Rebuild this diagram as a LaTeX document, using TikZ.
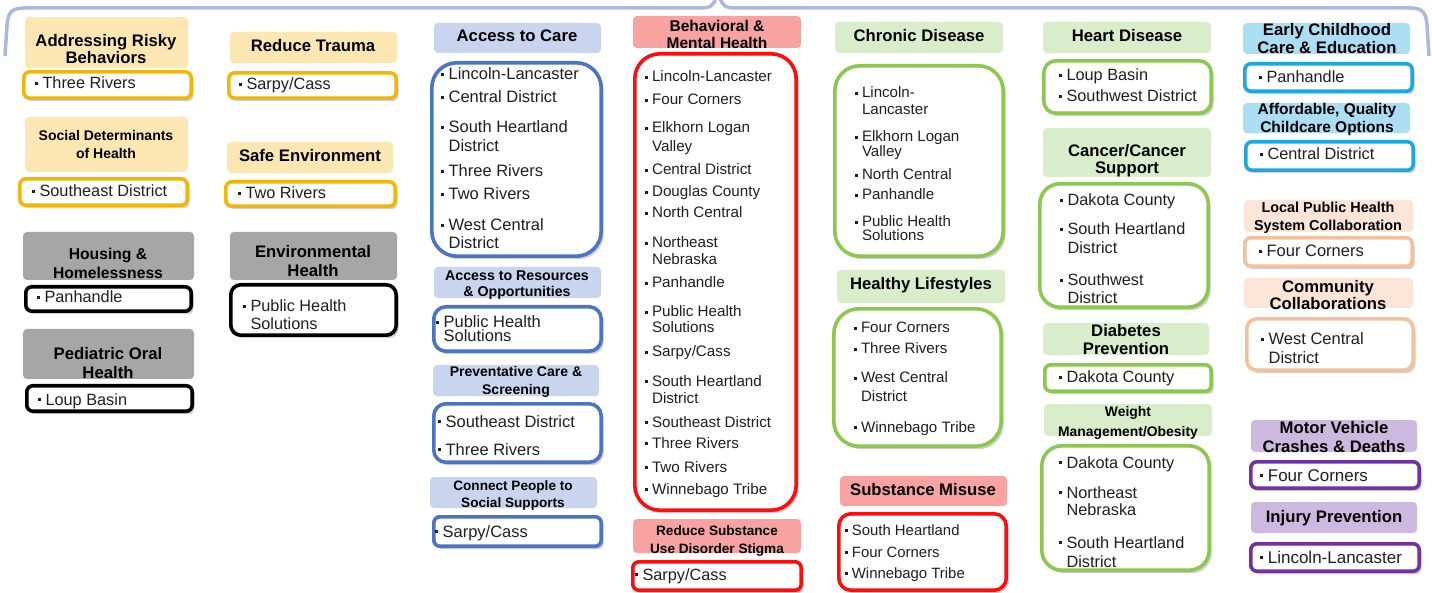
\documentclass[tikz,border=0pt]{standalone}
\usepackage{fontspec}
\setmainfont{Liberation Sans}
\usetikzlibrary{fit,shadows}
\definecolor{goldB}{HTML}{F2B705}
\definecolor{goldF}{HTML}{FCE7B2}
\definecolor{grayF}{HTML}{A6A6A6}
\definecolor{blueF}{HTML}{C9D4EE}
\definecolor{blueB}{HTML}{4A74C4}
\definecolor{redF}{HTML}{F8A2A2}
\definecolor{redB}{HTML}{FF0D0D}
\definecolor{greenF}{HTML}{DAEDCB}
\definecolor{greenB}{HTML}{8DC84E}
\definecolor{cyanF}{HTML}{ABDDF3}
\definecolor{cyanB}{HTML}{19A9E1}
\definecolor{peachF}{HTML}{FCE5D6}
\definecolor{peachB}{HTML}{F2C19C}
\definecolor{purpF}{HTML}{CDB9DF}
\definecolor{purpB}{HTML}{7131A1}
\definecolor{braceC}{HTML}{ABB9E1}
\newcounter{nc}
\newcommand\bul{\rule[0.22em]{0.19em}{0.19em}\hspace{0.26em}}
\newcommand\nob{\hspace{0.45em}}
\newcommand\hdrbox[5][]{\stepcounter{nc}\edef\nn{\the\value{nc}}\node[hdr,#1,fit={(#2,#3)(#4,#5)}] (h\nn) {};}
\newcommand\itembox[5][]{\stepcounter{nc}\edef\nn{\the\value{nc}}\node[bxs,#1,fit={(#2+1.8,#3+1.8)(#4-1.8,#5-1.8)}] (b\nn) {};}
\newcommand\hdrline[4][16.7]{\stepcounter{nc}\edef\nn{\the\value{nc}}\node[htxt,font=\bfseries\fontsize{#1}{#1}\selectfont] (t\nn) at (#2,#3) {#4};}
\newcommand\itemline[4][16.3]{\stepcounter{nc}\edef\nn{\the\value{nc}}\node[itxt,font=\fontsize{#1}{#1}\selectfont] (t\nn) at (#2,#3) {#4};}
\tikzset{
  hdr/.style={inner sep=0pt, rounded corners=4pt, draw=none},
  bxs/.style={inner sep=0pt, draw, line width=3.6pt, fill=white, rounded corners=6pt,
    drop shadow={shadow xshift=2.5pt, shadow yshift=-3pt, opacity=0.3, fill=black!60}},
  htxt/.style={anchor=base, inner sep=0pt, text=black},
  itxt/.style={anchor=base west, inner sep=0pt, text=black!88},
  hY/.style={fill=goldF}, bG/.style={draw=goldB},
  hGr/.style={fill=grayF}, bK/.style={draw=black},
  hB/.style={fill=blueF}, bB/.style={draw=blueB},
  hR/.style={fill=redF}, bR/.style={draw=redB},
  hGn/.style={fill=greenF}, bGn/.style={draw=greenB},
  hC/.style={fill=cyanF}, bC/.style={draw=cyanB},
  hP/.style={fill=peachF}, bP/.style={draw=peachB},
  hV/.style={fill=purpF}, bV/.style={draw=purpB},
  brace/.style={draw=braceC, line width=3.5pt}
}
\begin{document}
\begin{tikzpicture}[x=1pt,y=-1pt]
\fill[white] (0,0) rectangle (1432,593);
\useasboundingbox (0,0) rectangle (1432,593);
% brace
\draw[brace] (5,56) -- (7,25) .. controls (8,12) and (12,8) .. (25,8) -- (700,8) .. controls (710,8) and (714,6) .. (716,-3);
\draw[brace] (720,-3) .. controls (722,6) and (726,8) .. (736,8) -- (1410,8) .. controls (1422,8) and (1426,12) .. (1427,25) -- (1429,56);
% ---------- column 1
\hdrbox[hY]{25}{17}{188}{68}
\hdrline{106}{47}{Addressing Risky}
\hdrline{106}{64}{Behaviors}
\itembox[bG]{22}{70}{193}{100}
\itemline{35}{89}{\bul Three Rivers}
\hdrbox[hY]{25}{117}{188}{172}
\hdrline[14]{106}{141}{Social Determinants}
\hdrline[14]{106}{159}{of Health}
\itembox[bG]{18}{177}{189}{207}
\itemline{32}{197}{\bul Southeast District}
\hdrbox[hGr]{23}{232}{194}{280}
\hdrline[15.7]{108}{260}{Housing \&}
\hdrline[15.7]{108}{279}{Homelessness}
\itembox[bK]{24}{285}{193}{313}
\itemline{37}{303}{\bul Panhandle}
\hdrbox[hGr]{23}{329}{194}{379}
\hdrline{108}{360}{Pediatric Oral}
\hdrline{108}{378}{Health}
\itembox[bK]{25}{384}{194}{413}
\itemline{38}{405}{\bul Loup Basin}
% ---------- column 2
\hdrbox[hY]{230}{32}{397}{63}
\hdrline{313}{52}{Reduce Trauma}
\itembox[bG]{227}{71}{398}{100}
\itemline{239}{90}{\bul Sarpy/Cass}
\hdrbox[hY]{227}{142}{393}{173}
\hdrline{310}{162}{Safe Environment}
\itembox[bG]{224}{180}{397}{208}
\itemline{238}{199}{\bul Two Rivers}
\hdrbox[hGr]{230}{232}{397}{280}
\hdrline{313}{258}{Environmental}
\hdrline{313}{277}{Health}
\itembox[bK,rounded corners=10pt]{229}{283}{398}{337}
\itemline{243}{312}{\bul Public Health}
\itemline{243}{330}{\nob Solutions}
% ---------- column 3
\hdrbox[hB]{434}{23}{601}{53}
\hdrline{517}{42}{Access to Care}
\itembox[bB,rounded corners=25pt]{430}{61}{603}{258}
\itemline[16.5]{441}{80}{\bul Lincoln-Lancaster}
\itemline[16.5]{441}{103}{\bul Central District}
\itemline[16.5]{441}{133}{\bul South Heartland}
\itemline[16.5]{441}{152}{\nob District}
\itemline[16.5]{441}{177}{\bul Three Rivers}
\itemline[16.5]{441}{200}{\bul Two Rivers}
\itemline[16.5]{441}{231}{\bul West Central}
\itemline[16.5]{441}{249}{\nob District}
\hdrbox[hB]{434}{267}{601}{298}
\hdrline[14.2]{517}{281}{Access to Resources}
\hdrline[14.2]{517}{297}{\& Opportunities}
\itembox[bB,rounded corners=12pt]{432}{305}{603}{353}
\itemline[16.5]{436}{328}{\bul Public Health}
\itemline[16.5]{436}{342}{\nob Solutions}
\hdrbox[hB]{433}{365}{599}{396}
\hdrline[14]{516}{377}{Preventative Care \&}
\hdrline[14]{516}{395}{Screening}
\itembox[bB,rounded corners=12pt]{432}{402}{603}{464}
\itemline[16.5]{438}{427}{\bul Southeast District}
\itemline[16.5]{438}{455}{\bul Three Rivers}
\hdrbox[hB]{430}{477}{597}{508}
\hdrline[13.6]{513}{490}{Connect People to}
\hdrline[13.6]{513}{507}{Social Supports}
\itembox[bB]{432}{515}{603}{548}
\itemline[16.5]{435}{537}{\bul Sarpy/Cass}
% ---------- column 4
\hdrbox[hR]{633}{16}{801}{48}
\hdrline[15.5]{717}{32}{Behavioral \&}
\hdrline[15.5]{717}{49}{Mental Health}
\itembox[bR,rounded corners=25pt]{633}{52}{798}{512}
\itemline[15.2]{645}{82}{\bul Lincoln-Lancaster}
\itemline[15.2]{645}{105}{\bul Four Corners}
\itemline[15.2]{645}{133}{\bul Elkhorn Logan}
\itemline[15.2]{645}{152}{\nob Valley}
\itemline[15.2]{645}{175}{\bul Central District}
\itemline[15.2]{645}{197}{\bul Douglas County}
\itemline[15.2]{645}{218}{\bul North Central}
\itemline[15.2]{645}{248}{\bul Northeast}
\itemline[15.2]{645}{265}{\nob Nebraska}
\itemline[15.2]{645}{288}{\bul Panhandle}
\itemline[15.2]{645}{317}{\bul Public Health}
\itemline[15.2]{645}{333}{\nob Solutions}
\itemline[15.2]{645}{357}{\bul Sarpy/Cass}
\itemline[15.2]{645}{386}{\bul South Heartland}
\itemline[15.2]{645}{403}{\nob District}
\itemline[15.2]{645}{427}{\bul Southeast District}
\itemline[15.2]{645}{448}{\bul Three Rivers}
\itemline[15.2]{645}{472}{\bul Two Rivers}
\itemline[15.2]{645}{494}{\bul Winnebago Tribe}
\hdrbox[hR]{633}{519}{801}{553}
\hdrline[13.6]{717}{535}{Reduce Substance}
\hdrline[13.6]{717}{553}{Use Disorder Stigma}
\itembox[bR]{631}{560}{803}{592}
\itemline[16.3]{635}{580}{\bul Sarpy/Cass}
% ---------- column 5
\hdrbox[hGn]{835}{22}{1003}{53}
\hdrline{919}{42}{Chronic Disease}
\itembox[bGn,rounded corners=25pt]{833}{64}{1005}{258}
\itemline[15.1]{855}{98}{\bul Lincoln-}
\itemline[15.1]{855}{115}{\nob Lancaster}
\itemline[15.1]{855}{142}{\bul Elkhorn Logan}
\itemline[15.1]{855}{157}{\nob Valley}
\itemline[15.1]{855}{180}{\bul North Central}
\itemline[15.1]{855}{200}{\bul Panhandle}
\itemline[15.1]{855}{227}{\bul Public Health}
\itemline[15.1]{855}{241}{\nob Solutions}
\hdrbox[hGn]{837}{270}{1005}{303}
\hdrline{921}{290}{Healthy Lifestyles}
\itembox[bGn,rounded corners=25pt]{832}{307}{1003}{448}
\itemline[15.1]{854}{333}{\bul Four Corners}
\itemline[15.1]{854}{354}{\bul Three Rivers}
\itemline[15.1]{854}{383}{\bul West Central}
\itemline[15.1]{854}{401}{\nob District}
\itemline[15.1]{854}{432}{\bul Winnebago Tribe}
\hdrbox[hR]{840}{476}{1007}{506}
\hdrline{923}{495}{Substance Misuse}
\itembox[bR,rounded corners=12pt]{837}{512}{1008}{592}
\itemline[14.9]{845}{535}{\bul South Heartland}
\itemline[14.9]{845}{557}{\bul Four Corners}
\itemline[14.9]{845}{578}{\bul Winnebago Tribe}
% ---------- column 6
\hdrbox[hGn]{1043}{22}{1211}{53}
\hdrline{1127}{42}{Heart Disease}
\itembox[bGn,rounded corners=12pt]{1042}{59}{1213}{115}
\itemline{1059}{81}{\bul Loup Basin}
\itemline{1059}{102}{\bul Southwest District}
\hdrbox[hGn]{1043}{128}{1211}{177}
\hdrline{1127}{157}{Cancer/Cancer}
\hdrline{1127}{174}{Support}
\itembox[bGn,rounded corners=20pt]{1038}{182}{1210}{309}
\itemline{1060}{206}{\bul Dakota County}
\itemline{1060}{235}{\bul South Heartland}
\itemline{1060}{254}{\nob District}
\itemline{1060}{286}{\bul Southwest}
\itemline{1060}{304}{\nob District}
\hdrbox[hGn]{1043}{323}{1209}{355}
\hdrline{1126}{337}{Diabetes}
\hdrline{1126}{355}{Prevention}
\itembox[bGn]{1043}{363}{1213}{393}
\itemline{1059}{383}{\bul Dakota County}
\hdrbox[hGn]{1044}{404}{1212}{436}
\hdrline[13.9]{1128}{417}{Weight}
\hdrline[13.9]{1128}{436}{Management/Obesity}
\itembox[bGn,rounded corners=20pt]{1040}{444}{1211}{572}
\itemline{1059}{468}{\bul Dakota County}
\itemline{1059}{498}{\bul Northeast}
\itemline{1059}{515}{\nob Nebraska}
\itemline{1059}{548}{\bul South Heartland}
\itemline{1059}{567}{\nob District}
% ---------- column 7
\hdrbox[hC]{1243}{23}{1410}{54}
\hdrline{1327}{36}{Early Childhood}
\hdrline{1327}{54}{Care \& Education}
\itembox[bC]{1243}{62}{1414}{93}
\itemline{1259}{83}{\bul Panhandle}
\hdrbox[hC]{1243}{103}{1410}{133}
\hdrline[15.5]{1327}{115}{Affordable, Quality}
\hdrline[15.5]{1327}{133}{Childcare Options}
\itembox[bC]{1244}{140}{1415}{172}
\itemline{1260}{160}{\bul Central District}
\hdrbox[hP]{1244}{200}{1413}{232}
\hdrline[14.4]{1328}{213}{Local Public Health}
\hdrline[14.4]{1328}{231}{System Collaboration}
\itembox[bP]{1243}{236}{1414}{268}
\itemline[16.5]{1259}{257}{\bul Four Corners}
\hdrbox[hP]{1244}{278}{1413}{308}
\hdrline{1328}{293}{Community}
\hdrline{1328}{310}{Collaborations}
\itembox[bP,rounded corners=10pt]{1245}{317}{1415}{372}
\itemline[16.5]{1261}{345}{\bul West Central}
\itemline[16.5]{1261}{364}{\nob District}
\hdrbox[hV]{1251}{420}{1417}{452}
\hdrline{1334}{433}{Motor Vehicle}
\hdrline{1334}{452}{Crashes \& Deaths}
\itembox[bV]{1249}{460}{1421}{490}
\itemline[17]{1260}{481}{\bul Four Corners}
\hdrbox[hV]{1251}{502}{1417}{533}
\hdrline{1334}{522}{Injury Prevention}
\itembox[bV]{1249}{542}{1421}{573}
\itemline[17]{1260}{563}{\bul Lincoln-Lancaster}
\end{tikzpicture}
\end{document}
